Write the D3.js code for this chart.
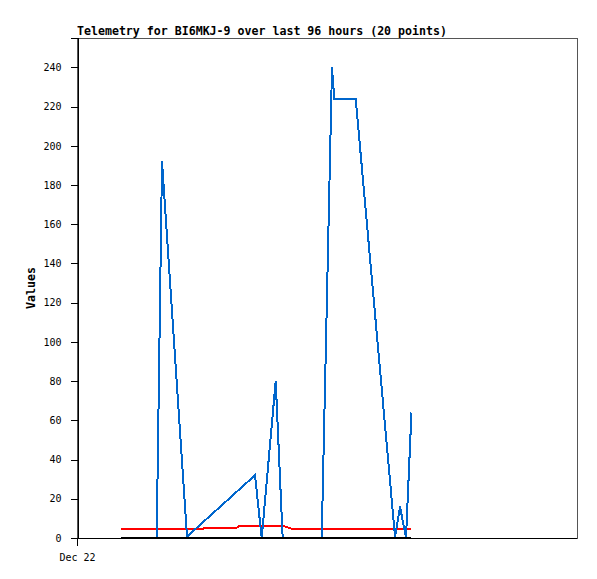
<!DOCTYPE html>
<html>
<head>
<meta charset="utf-8">
<script src="https://cdn.jsdelivr.net/npm/d3@7"></script>
<style>
  html, body { margin: 0; padding: 0; background: #fff; }
  svg { display: block; }
</style>
</head>
<body>
<script>
// ---- data (hours since Dec 22 00:00, value) ----
const titleText = "Telemetry for BI6MKJ-9 over last 96 hours (20 points)";
const yLabel = "Values";
const xTickLabels = ["Dec 22"];
const xTickHours = [0];
const yTicks = [0, 20, 40, 60, 80, 100, 120, 140, 160, 180, 200, 220, 240];

const blueHours  = [8.45, 15.30, 16.32, 21.12, 34.18, 35.46, 38.15, 39.49, 46.98, 48.96, 49.40, 53.51, 61.06, 62.02, 63.17, 64.22];
const blueValues = [0,    0,     192,   0.7,   32,    0,     80,    0,     0,     240,   224,   224,   0.7,   16,    0,     64];

const redHours  = [8.45, 24.29, 24.45, 30.72, 30.95, 39.94, 41.28, 64.22];
const redValues = [4.6,  4.6,   5.3,   5.3,   5.9,   5.9,   4.6,   4.6];

const blackHours  = [8.45, 64.22];
const blackValues = [0, 0];

// ---- layout ----
const W = 597, H = 579;
const mLeft = 77, mRight = 577, mTop = 38, mBottom = 538;

const svg = d3.select("body").append("svg").attr("width", W).attr("height", H);

const x = d3.scaleLinear().domain([0, 96]).range([mLeft, mRight]);
const y = d3.scaleLinear().domain([0, 255]).range([mBottom, mTop]);

// frame (top/right grey)
svg.append("rect")
  .attr("x", mLeft + 0.5).attr("y", mTop + 0.5)
  .attr("width", mRight - mLeft).attr("height", mBottom - mTop)
  .attr("fill", "none").attr("stroke", "#555").attr("stroke-width", 1)
  .attr("shape-rendering", "crispEdges");

const mono = "'DejaVu Sans Mono', 'Liberation Mono', monospace";

// y axis
const yAxis = d3.axisLeft(y).tickValues(yTicks).tickSize(7).tickPadding(9).tickFormat(d3.format("d"));
const gy = svg.append("g").attr("transform", `translate(${mLeft + 0.5},0)`).call(yAxis);
gy.select(".domain").attr("stroke", "#000").attr("shape-rendering", "crispEdges");
gy.selectAll(".tick line").attr("stroke", "#000").attr("shape-rendering", "crispEdges");
gy.selectAll(".tick text").attr("font-family", mono).attr("font-size", "10px").attr("fill", "#000");

// x axis
const xAxis = d3.axisBottom(x).tickValues(xTickHours).tickSize(7).tickPadding(8)
  .tickFormat((d, i) => xTickLabels[i]);
const gx = svg.append("g").attr("transform", `translate(0,${mBottom + 0.5})`).call(xAxis);
gx.select(".domain").attr("stroke", "#000").attr("shape-rendering", "crispEdges")
  .attr("d", `M${mLeft},0H${mRight}`);
gx.selectAll(".tick line").attr("stroke", "#000").attr("shape-rendering", "crispEdges");
gx.selectAll(".tick text").attr("font-family", mono).attr("font-size", "10px").attr("fill", "#000");

// series
const line = d3.line().x(d => x(d[0])).y(d => y(d[1]));
function series(hours, values, color, width) {
  svg.append("path")
    .datum(hours.map((h, i) => [h, values[i]]))
    .attr("d", line)
    .attr("fill", "none")
    .attr("stroke", color)
    .attr("stroke-width", width)
    .attr("stroke-linejoin", "miter")
    .attr("shape-rendering", "crispEdges");
}
series(redHours, redValues, "#ff0000", 2);
series(blueHours, blueValues, "#0066cc", 2);
series(blackHours, blackValues, "#000000", 2);

// title
svg.append("text")
  .attr("x", mLeft).attr("y", 35)
  .attr("font-family", mono).attr("font-size", "11.6px").attr("font-weight", "bold")
  .attr("fill", "#000")
  .text(titleText);

// y label
svg.append("text")
  .attr("transform", `translate(35,${(mTop + mBottom) / 2}) rotate(-90)`)
  .attr("text-anchor", "middle")
  .attr("font-family", mono).attr("font-size", "11.6px").attr("font-weight", "bold")
  .attr("fill", "#000")
  .text(yLabel);
</script>
</body>
</html>
